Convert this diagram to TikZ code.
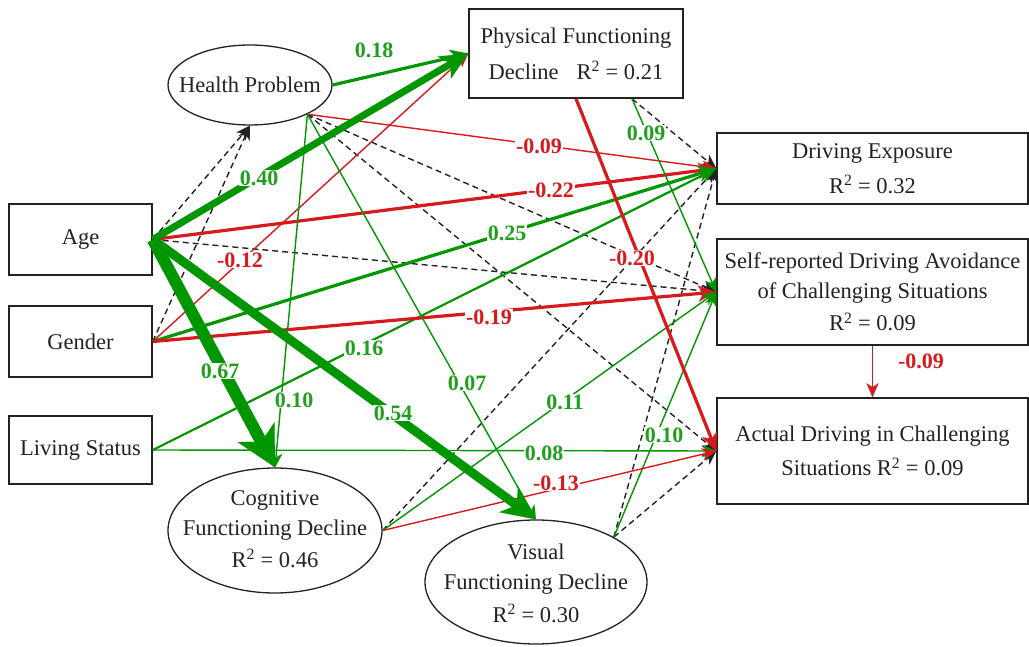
\documentclass[tikz,border=0pt]{standalone}
\usepackage{fontspec}
\setmainfont{Liberation Serif}
\usetikzlibrary{arrows.meta,shapes.geometric,calc}
\definecolor{gr}{RGB}{0,150,0}
\definecolor{grl}{RGB}{30,160,30}
\definecolor{rd}{RGB}{214,26,30}
\definecolor{txt}{RGB}{34,34,34}
\begin{document}
\begin{tikzpicture}[x=1pt,y=-1pt,
  box/.style={draw=txt, line width=1.5pt, rectangle, inner sep=2pt, align=center, text=txt, font=\fontsize{22.5}{30}\selectfont},
  ell/.style={draw=txt, line width=1.3pt, ellipse, inner sep=0pt},
  etxt/.style={align=center, text=txt, font=\fontsize{22.5}{30}\selectfont, inner sep=0pt},
  lbl/.style={font=\fontsize{22}{24}\selectfont\bfseries, fill=white, inner sep=1pt},
  glbl/.style={lbl, text=grl},
  rlbl/.style={lbl, text=rd},
  tipthin/.style={-{Stealth[length=14pt,width=12pt,inset=4pt,line width=0.1pt]}},
  gthin/.style={draw=gr, line width=1.4pt, tipthin},
  rthin/.style={draw=rd, line width=1.4pt, tipthin},
  gmid/.style={draw=gr, line width=2.2pt, -{Stealth[length=16pt,width=14pt,inset=5pt,line width=0.1pt]}},
  gmed/.style={draw=gr, line width=3.2pt, -{Stealth[length=18pt,width=16pt,inset=5pt,line width=0.1pt]}},
  rmed/.style={draw=rd, line width=3.2pt, -{Stealth[length=18pt,width=16pt,inset=5pt,line width=0.1pt]}},
  gthk/.style={draw=gr, line width=7pt, -{Stealth[length=28pt,width=26pt,inset=8pt,line width=0.1pt]}},
  gthkr/.style={draw=gr, line width=9pt, -{Stealth[length=34pt,width=32pt,inset=10pt,line width=0.1pt]}},
  gthkst/.style={draw=gr, line width=12pt, -{Stealth[length=40pt,width=42pt,inset=11pt,line width=0.1pt]}},
  dsh/.style={draw=txt, line width=1.4pt, dash pattern=on 6pt off 4pt, tipthin},
]
\useasboundingbox (0,0) rectangle (1029,647);

% nodes
\node[box, minimum width=143pt, minimum height=71pt] (age) at (80.5,239.5) {Age};
\node[box, minimum width=143pt, minimum height=71pt] (gen) at (80.5,341.5) {Gender};
\node[box, minimum width=143pt, minimum height=68pt] (liv) at (80.5,450) {Living Status};
\node[ell, minimum width=164pt, minimum height=80pt] (hp) at (250,85) {};
\node[etxt] (hpt) at (hp) {Health Problem};
\node[box, minimum width=214pt, minimum height=89pt] (phys) at (576,53.5)
  {Physical Functioning\\[6pt]Decline\hspace{18pt}R\textsuperscript{2} = 0.21};
\node[box, minimum width=311pt, minimum height=71pt] (de) at (872.5,168.5)
  {Driving Exposure\\[5pt]R\textsuperscript{2} = 0.32};
\node[box, minimum width=311pt, minimum height=106pt] (sr) at (872.5,292)
  {Self-reported Driving Avoidance\\of Challenging Situations\\[2pt]R\textsuperscript{2} = 0.09};
\node[box, minimum width=311pt, minimum height=106pt] (act) at (872.5,451)
  {Actual Driving in Challenging\\[4pt]Situations R\textsuperscript{2} = 0.09};
\node[ell, minimum width=214pt, minimum height=125pt] (cog) at (275,530.5) {};
\node[etxt] (cogt) at (275,529) {Cognitive\\Functioning Decline\\[2pt]R\textsuperscript{2} = 0.46};
\node[ell, minimum width=222pt, minimum height=124pt] (vis) at (536,582) {};
\node[etxt] (vist) at (536,583) {Visual\\Functioning Decline\\[3pt]R\textsuperscript{2} = 0.30};
\coordinate (physbr) at ($(phys.south)!0.52!(phys.south east)$);

% connectors
\draw[dsh] (age.east) -- (hp.south);
\draw[dsh] (gen.east) -- (hp.south);
\draw[dsh] (physbr) -- (de.west);
\draw[dsh] (cog.east) -- (de.west);
\draw[dsh] (vis.30) -- (de.west);
\draw[dsh] (hp.-27) -- (sr.west);
\draw[dsh] (age.east) -- (sr.west);
\draw[dsh] (hp.-27) -- (act.west);
\draw[dsh] (vis.30) -- (act.west);

\draw[gmed] (hp.east) -- (phys.west);
\draw[rthin] (gen.east) -- (phys.west);
\draw[rthin] (hp.-27) -- (de.west);
\draw[rmed] (age.east) -- (de.west);
\draw[gmed] (gen.east) -- (de.west);
\draw[gmid] (liv.east) -- (de.west);
\draw[rmed] (gen.east) -- (sr.west);
\draw[gthin] (physbr) -- (sr.west);
\draw[gthin] (cog.east) -- (sr.west);
\draw[gthin] (vis.30) -- (sr.west);
\draw[gthin] (hp.-27) -- (cog.north);
\draw[gthin] (hp.-27) -- (vis.north);
\draw[gthin] (liv.east) -- (act.west);
\draw[rthin] (cog.east) -- (act.west);
\draw[rmed] (phys.south) -- (act.west);
\draw[rthin] (sr.south) -- (act.north);
\draw[gthk] (age.east) -- (phys.west);
\draw[gthkr] (age.east) -- (vis.north);
\draw[gthkst] (age.east) -- (cog.north);

% labels
\node[glbl, fill=none] (l1) at (374,50) {0.18};
\node[glbl] (l2) at (259,178) {0.40};
\node[rlbl] (l3) at (240,260) {-0.12};
\node[glbl] (l4) at (220,371) {0.67};
\node[glbl] (l5) at (294,400) {0.10};
\node[rlbl] (l6) at (539,146) {-0.09};
\node[rlbl] (l7) at (551,190) {-0.22};
\node[glbl] (l8) at (646,133) {0.09};
\node[glbl] (l9) at (507,233) {0.25};
\node[rlbl] (l10) at (632,258) {-0.20};
\node[rlbl] (l11) at (489,317) {-0.19};
\node[glbl] (l12) at (364,348) {0.16};
\node[glbl] (l13) at (467,383) {0.07};
\node[glbl] (l14) at (393,413) {0.54};
\node[glbl] (l15) at (565,402) {0.11};
\node[glbl] (l16) at (664,435) {0.10};
\node[glbl] (l17) at (544,453) {0.08};
\node[rlbl] (l18) at (556,483) {-0.13};
\node[rlbl, fill=none] (l19) at (921,361) {-0.09};
\end{tikzpicture}
\end{document}
